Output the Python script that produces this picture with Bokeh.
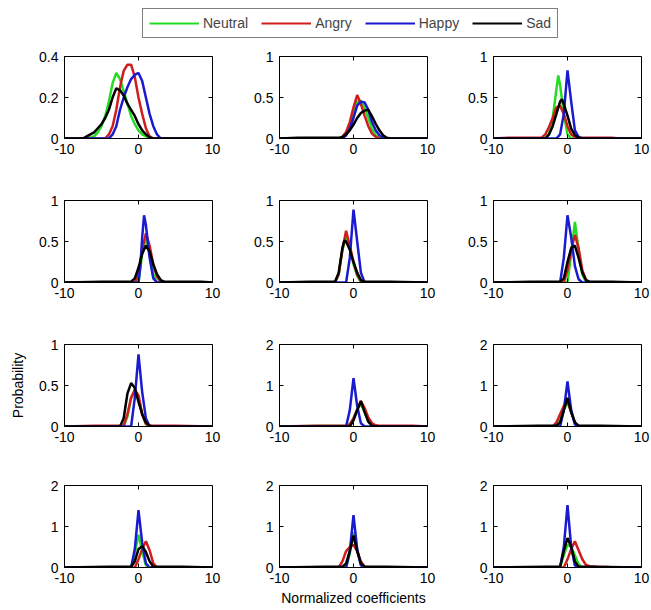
from bokeh.plotting import figure
from bokeh.layouts import column, row
from bokeh.models import (Range1d, FixedTicker, Legend, LegendItem,
                          CustomJSTickFormatter)
from bokeh.embed import file_html
from bokeh.resources import INLINE

EMOTIONS = ["Neutral", "Angry", "Happy", "Sad"]
COLORS = ["#22dd22", "#d01c1c", "#1a1ad0", "#000000"]
X_TICKS = [-10, 0, 10]
Y_MAX = [0.4, 1, 1, 1, 1, 1, 1, 2, 2, 2, 2, 2]
Y_TICKS = [[0, 0.2, 0.4], [0, 0.5, 1], [0, 0.5, 1], [0, 0.5, 1], [0, 0.5, 1], [0, 0.5, 1],
           [0, 0.5, 1], [0, 1, 2], [0, 1, 2], [0, 1, 2], [0, 1, 2], [0, 1, 2]]
X_LABEL = "Normalized coefficients"
Y_LABEL = "Probability"

NEUTRAL_X = [
    [-10, -7, -6, -5.5, -5, -4.5, -4, -3.5, -3, -2.5, -2, -1.5, -1, -0.5, 0, 0.5, 1, 1.5, 10],
    [-10, -1.5, -1, -0.5, 0, 0.5, 1, 1.5, 2, 2.5, 3, 3.5, 10],
    [-10, -3, -2.5, -2, -1.5, -1.25, -1, -0.5, 0, 0.5, 10],
    [-10, 0, 0.5, 1, 1.5, 2, 2.5, 10],
    [-10, -2.5, -2, -1.5, -1, -0.5, 0, 0.5, 1, 10],
    [-10, 0, 0.5, 1, 1.5, 2, 2.5, 10],
    [-10, -2, -1.5, -1, -0.5, 0, 0.5, 1, 1.5, 10],
    [-10, -5, -1, -0.5, 0, 0.5, 1, 1.5, 2, 2.5, 10],
    [-10, -1.5, -1, -0.5, 0, 0.5, 1, 1.5, 10],
    [-10, -1, -0.5, 0, 0.5, 1, 1.5, 10],
    [-10, -1, -0.5, 0, 0.5, 1, 1.5, 10],
    [-10, -1, -0.5, 0, 0.5, 1, 1.5, 2, 10],
]
NEUTRAL_Y = [
    [0, 0, 0.01, 0.03, 0.06, 0.11, 0.18, 0.27, 0.32, 0.29, 0.23, 0.17, 0.11, 0.07, 0.04, 0.02, 0.01, 0, 0],
    [0, 0, 0.05, 0.15, 0.3, 0.45, 0.46, 0.38, 0.25, 0.12, 0.04, 0, 0],
    [0, 0, 0.05, 0.25, 0.6, 0.77, 0.65, 0.3, 0.05, 0, 0],
    [0, 0, 0.35, 0.55, 0.35, 0.1, 0, 0],
    [0, 0, 0.1, 0.4, 0.55, 0.42, 0.22, 0.08, 0, 0],
    [0, 0, 0.35, 0.74, 0.4, 0.1, 0, 0],
    [0, 0, 0.12, 0.35, 0.42, 0.35, 0.15, 0.03, 0, 0],
    [0, 0.01, 0.01, 0.05, 0.2, 0.42, 0.55, 0.35, 0.12, 0, 0],
    [0, 0, 0.15, 0.4, 0.6, 0.35, 0.1, 0, 0],
    [0, 0, 0.35, 0.8, 0.4, 0.05, 0, 0],
    [0, 0, 0.35, 0.86, 0.4, 0.08, 0, 0],
    [0, 0, 0.3, 0.55, 0.5, 0.3, 0.08, 0, 0],
]

ANGRY_X = [
    [-10, -4.5, -4, -3.5, -3, -2.5, -2, -1.5, -1, -0.5, 0, 0.5, 1, 1.5, 2, 10],
    [-10, -2, -1.5, -1, -0.5, 0, 0.5, 1, 1.5, 2, 2.5, 3, 3.5, 10],
    [-10, -8, -7, -3.5, -3, -2.5, -2, -1.5, -1, -0.5, 0, 0.5, 1, 1.5, 6, 7, 10],
    [-10, -0.5, 0, 0.5, 1, 1.5, 2, 2.5, 3, 3.5, 10],
    [-10, -2.5, -2, -1.5, -1, -0.5, 0, 0.5, 1, 1.5, 10],
    [-10, -0.5, 0, 0.5, 1, 1.5, 2, 2.5, 3, 10],
    [-10, -6, -2, -1.5, -1, -0.5, 0, 0.5, 1, 1.5, 5, 10],
    [-10, -5, -1, -0.5, 0, 0.5, 1, 1.5, 2, 2.5, 3, 3.5, 8, 10],
    [-10, -2, -1.5, -1, -0.5, 0, 0.5, 1, 1.5, 10],
    [-10, -0.5, 0, 0.5, 1, 1.5, 2, 2.5, 10],
    [-10, -2, -1.5, -1, -0.5, 0, 0.5, 1, 1.5, 2, 10],
    [-10, -0.5, 0, 0.5, 1, 1.5, 2, 2.5, 3, 4, 5.5, 6, 10],
]
ANGRY_Y = [
    [0, 0, 0.02, 0.06, 0.14, 0.25, 0.33, 0.36, 0.36, 0.3, 0.2, 0.12, 0.05, 0.01, 0, 0],
    [0, 0, 0.02, 0.08, 0.2, 0.38, 0.53, 0.42, 0.28, 0.15, 0.06, 0.02, 0, 0],
    [0, 0.01, 0.01, 0.01, 0.05, 0.14, 0.25, 0.38, 0.4, 0.3, 0.15, 0.05, 0.02, 0.01, 0.01, 0, 0],
    [0, 0, 0.1, 0.4, 0.6, 0.45, 0.22, 0.07, 0.01, 0, 0],
    [0, 0, 0.1, 0.4, 0.63, 0.45, 0.25, 0.1, 0.02, 0, 0],
    [0, 0, 0.15, 0.4, 0.58, 0.42, 0.15, 0.03, 0, 0],
    [0, 0.01, 0.01, 0.15, 0.35, 0.45, 0.38, 0.15, 0.03, 0.01, 0.01, 0],
    [0, 0.02, 0.02, 0.05, 0.2, 0.4, 0.62, 0.45, 0.22, 0.08, 0.03, 0.02, 0.02, 0],
    [0, 0, 0.1, 0.3, 0.5, 0.62, 0.35, 0.1, 0, 0],
    [0, 0, 0.2, 0.45, 0.64, 0.42, 0.1, 0, 0],
    [0, 0, 0.15, 0.4, 0.5, 0.55, 0.4, 0.15, 0.02, 0, 0],
    [0, 0, 0.2, 0.45, 0.64, 0.42, 0.2, 0.06, 0.03, 0.02, 0.01, 0, 0],
]

HAPPY_X = [
    [-10, -4, -3.5, -3, -2.5, -2, -1.5, -1, -0.5, 0, 0.5, 1, 1.5, 2, 2.5, 3, 10],
    [-10, -1.5, -1, -0.5, 0, 0.5, 1, 1.5, 2, 2.5, 3, 3.5, 4, 4.5, 10],
    [-10, -1.5, -1, -0.5, 0, 0.5, 1, 1.5, 2, 10],
    [-10, 0, 0.25, 0.5, 0.75, 1, 1.5, 2, 2.5, 10],
    [-10, -1, -0.5, 0, 0.5, 1, 1.5, 10],
    [-10, -1, -0.5, 0, 0.5, 1, 1.5, 2, 10],
    [-10, -1, -0.5, 0, 0.5, 1, 1.5, 10],
    [-10, -1, -0.5, 0, 0.5, 1, 1.5, 10],
    [-10, -1, -0.5, 0, 0.5, 1, 1.5, 10],
    [-10, -1, -0.5, 0, 0.5, 1, 1.5, 10],
    [-10, -1, -0.5, 0, 0.5, 1, 1.5, 10],
    [-10, -1, -0.5, 0, 0.5, 1, 1.5, 10],
]
HAPPY_Y = [
    [0, 0, 0.02, 0.06, 0.14, 0.2, 0.25, 0.29, 0.31, 0.32, 0.28, 0.2, 0.12, 0.06, 0.02, 0, 0],
    [0, 0, 0.04, 0.12, 0.25, 0.4, 0.45, 0.44, 0.35, 0.2, 0.1, 0.04, 0.01, 0, 0],
    [0, 0, 0.05, 0.3, 0.83, 0.45, 0.1, 0.02, 0, 0],
    [0, 0, 0.2, 0.55, 0.82, 0.7, 0.3, 0.05, 0, 0],
    [0, 0, 0.3, 0.89, 0.5, 0.12, 0, 0],
    [0, 0, 0.3, 0.82, 0.55, 0.2, 0.04, 0, 0],
    [0, 0, 0.35, 0.88, 0.42, 0.1, 0, 0],
    [0, 0, 0.4, 1.18, 0.5, 0.08, 0, 0],
    [0, 0, 0.4, 1.1, 0.4, 0.05, 0, 0],
    [0, 0, 0.45, 1.4, 0.6, 0.1, 0, 0],
    [0, 0, 0.4, 1.28, 0.45, 0.05, 0, 0],
    [0, 0, 0.5, 1.52, 0.5, 0.05, 0, 0],
]

SAD_X = [
    [-10, -7.5, -7, -6.5, -6, -5.5, -5, -4.5, -4, -3.5, -3, -2.5, -2, -1.5, -1, -0.5, 0, 0.5, 1, 1.5, 2, 10],
    [-10, -7.5, -2, -1.5, -1, -0.5, 0, 0.5, 1, 1.5, 2, 2.5, 3, 3.5, 4, 4.5, 5, 10],
    [-10, -3, -2.5, -2, -1.5, -1, -0.75, -0.5, 0, 0.5, 1, 1.5, 2, 10],
    [-10, -5, -1, -0.5, 0, 0.5, 1, 1.5, 2, 2.5, 3, 3.5, 8.5, 10],
    [-10, -6, -2.5, -2, -1.5, -1.25, -1, -0.5, 0, 0.5, 1, 1.5, 5, 10],
    [-10, -5, -1, -0.5, 0, 0.5, 1, 1.5, 2, 2.5, 3, 6, 10],
    [-10, -2.5, -2, -1.5, -1, -0.5, 0, 0.5, 1, 1.5, 2, 10],
    [-10, -0.5, 0, 0.5, 1, 1.5, 2, 2.5, 3, 10],
    [-10, -4, -1.5, -1, -0.5, 0, 0.5, 1, 1.5, 2, 4.5, 10],
    [-10, -4, -1, -0.5, 0, 0.5, 1, 1.5, 2, 2.5, 6, 10],
    [-10, -4, -1.5, -1, -0.5, 0, 0.5, 1, 1.5, 2, 4.5, 10],
    [-10, -3, -1, -0.5, 0, 0.5, 1, 1.5, 2, 3, 10],
]
SAD_Y = [
    [0, 0, 0.01, 0.02, 0.03, 0.05, 0.07, 0.1, 0.14, 0.2, 0.245, 0.235, 0.21, 0.17, 0.14, 0.11, 0.07, 0.04, 0.02, 0.005, 0, 0],
    [0, 0.008, 0.008, 0.02, 0.05, 0.1, 0.17, 0.25, 0.31, 0.34, 0.35, 0.27, 0.18, 0.1, 0.04, 0.01, 0, 0],
    [0, 0, 0.05, 0.15, 0.3, 0.45, 0.48, 0.42, 0.28, 0.12, 0.04, 0.01, 0, 0],
    [0, 0.01, 0.01, 0.05, 0.18, 0.35, 0.45, 0.38, 0.22, 0.1, 0.03, 0.01, 0.01, 0],
    [0, 0.01, 0.01, 0.12, 0.42, 0.51, 0.5, 0.4, 0.25, 0.12, 0.03, 0.01, 0.01, 0],
    [0, 0.01, 0.01, 0.05, 0.25, 0.42, 0.45, 0.3, 0.12, 0.03, 0.01, 0.01, 0],
    [0, 0, 0.1, 0.4, 0.53, 0.47, 0.3, 0.15, 0.05, 0.01, 0, 0],
    [0, 0, 0.15, 0.4, 0.62, 0.35, 0.12, 0.02, 0, 0],
    [0, 0.02, 0.02, 0.1, 0.4, 0.7, 0.35, 0.1, 0.02, 0.02, 0.02, 0],
    [0, 0.02, 0.02, 0.15, 0.45, 0.52, 0.38, 0.15, 0.02, 0.02, 0.02, 0],
    [0, 0.02, 0.02, 0.1, 0.4, 0.78, 0.4, 0.1, 0.02, 0.02, 0.02, 0],
    [0, 0.02, 0.02, 0.4, 0.72, 0.5, 0.15, 0.02, 0.02, 0.02, 0],
]

SERIES_X = [NEUTRAL_X, ANGRY_X, HAPPY_X, SAD_X]
SERIES_Y = [NEUTRAL_Y, ANGRY_Y, HAPPY_Y, SAD_Y]

FONT = "Liberation Sans"
FS = "14px"
FRAME_W, FRAME_H = 148, 82
TICK_PX = 4
LINE_W = 2.5
COL_LEFT = [64, 34, 33]
COL_RIGHT = [33, 33, 10]
ROW_TOP = [12, 8, 8, 8]
ROW_BOTTOM = [54, 54, 51, 43]

fmt = CustomJSTickFormatter(code="return String(tick);")


def style_axis(ax):
    ax.major_tick_in = TICK_PX
    ax.major_tick_out = 0
    ax.minor_tick_line_color = None
    ax.axis_line_color = "black"
    ax.major_tick_line_color = "black"
    ax.major_label_text_font = FONT
    ax.major_label_text_font_size = FS
    ax.major_label_text_color = "black"
    ax.major_label_standoff = 5


def make_panel(i):
    r, c = divmod(i, 3)
    ymax = Y_MAX[i]
    p = figure(frame_width=FRAME_W, frame_height=FRAME_H,
               x_range=Range1d(-10, 10), y_range=Range1d(0, ymax),
               output_backend="svg", toolbar_location=None,
               min_border=0,
               min_border_left=COL_LEFT[c], min_border_right=COL_RIGHT[c],
               min_border_top=ROW_TOP[r], min_border_bottom=ROW_BOTTOM[r])
    p.grid.visible = False
    p.outline_line_color = "black"
    p.outline_line_width = 1
    p.background_fill_color = "white"
    p.border_fill_color = "white"
    xax = p.below[0]
    yax = p.left[0]
    xax.ticker = FixedTicker(ticks=X_TICKS)
    yax.ticker = FixedTicker(ticks=Y_TICKS[i])
    xax.formatter = fmt
    yax.formatter = fmt
    style_axis(xax)
    style_axis(yax)
    yax.major_label_standoff = 6

    # inward tick marks on the top and right edges (mirroring the axis ticks)
    dy = ymax * TICK_PX / FRAME_H
    dx = 20.0 * TICK_PX / FRAME_W
    p.segment(x0=X_TICKS, y0=[ymax] * len(X_TICKS),
              x1=X_TICKS, y1=[ymax - dy] * len(X_TICKS),
              line_color="black", line_width=1)
    p.segment(x0=[10] * len(Y_TICKS[i]), y0=Y_TICKS[i],
              x1=[10 - dx] * len(Y_TICKS[i]), y1=Y_TICKS[i],
              line_color="black", line_width=1)

    if i == 6:
        yax.axis_label = Y_LABEL
        yax.axis_label_text_font = FONT
        yax.axis_label_text_font_size = FS
        yax.axis_label_text_font_style = "normal"
        yax.axis_label_text_color = "black"
        yax.axis_label_standoff = 10
    if i == 10:
        xax.axis_label = X_LABEL
        xax.axis_label_text_font = FONT
        xax.axis_label_text_font_size = FS
        xax.axis_label_text_font_style = "normal"
        xax.axis_label_text_color = "black"
        xax.axis_label_standoff = 4
    for k in range(4):
        p.line(SERIES_X[k][i], SERIES_Y[k][i], line_color=COLORS[k], line_width=LINE_W)
    return p


# legend strip
leg = figure(frame_width=651, frame_height=44, min_border=0,
             x_range=Range1d(0, 1), y_range=Range1d(0, 1),
             x_axis_location=None, y_axis_location=None,
             output_backend="svg", toolbar_location=None)
leg.grid.visible = False
leg.outline_line_color = None
items = []
for k in range(4):
    rr = leg.line(x=[5, 6], y=[5, 5], line_color=COLORS[k], line_width=2)
    items.append(LegendItem(label=EMOTIONS[k], renderers=[rr]))
legend = Legend(items=items, orientation="horizontal", location=(142, 6),
                border_line_color="black", border_line_width=1,
                padding=6, spacing=13, glyph_width=50, glyph_height=14,
                label_height=14, label_standoff=4, margin=0,
                label_text_font=FONT, label_text_font_size=FS,
                background_fill_color="white", background_fill_alpha=1)
leg.add_layout(legend)

panels = [make_panel(i) for i in range(12)]
rows = [row(panels[3 * r:3 * r + 3], spacing=0) for r in range(4)]
layout = column([leg] + rows, spacing=0)

open("out.html", "w").write(file_html(layout, INLINE))
